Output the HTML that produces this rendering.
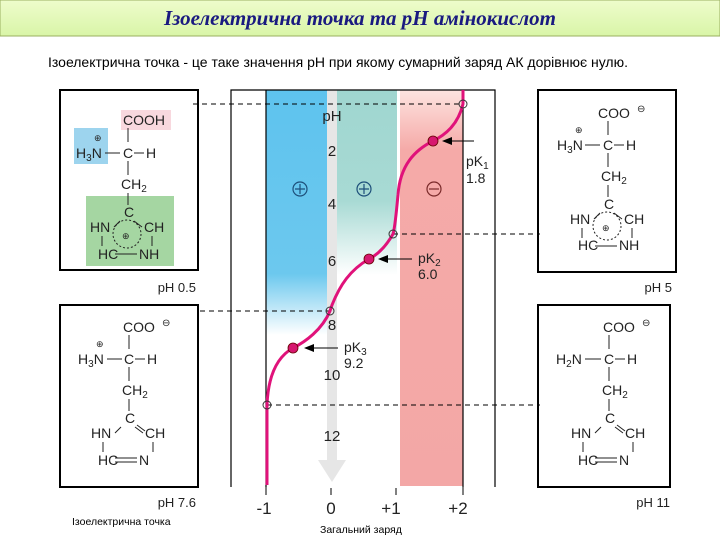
<!DOCTYPE html>
<html><head><meta charset="utf-8"><style>
body{margin:0;width:720px;height:540px;background:#fff;overflow:hidden}
svg text{font-family:"Liberation Sans",sans-serif}
</style></head><body>
<svg width="720" height="540" viewBox="0 0 720 540" xmlns="http://www.w3.org/2000/svg">
<defs>
<linearGradient id="tb" x1="0" y1="0" x2="0" y2="1"><stop offset="0" stop-color="#eefccc"/><stop offset="1" stop-color="#d9f5a8"/></linearGradient>
<linearGradient id="bl" x1="0" y1="0" x2="0" y2="1"><stop offset="0" stop-color="#5ec3ee"/><stop offset="0.75" stop-color="#6cc8ee"/><stop offset="1" stop-color="#fff"/></linearGradient>
<linearGradient id="tl" x1="0" y1="0" x2="0" y2="1"><stop offset="0" stop-color="#9fd6d0"/><stop offset="0.6" stop-color="#a8dad4"/><stop offset="1" stop-color="#fff"/></linearGradient>
<linearGradient id="pk" x1="0" y1="0" x2="0" y2="1"><stop offset="0" stop-color="#fde4e0"/><stop offset="0.15" stop-color="#f5aaa8"/><stop offset="1" stop-color="#f3a7a6"/></linearGradient>
</defs>
<rect x="0" y="0" width="720" height="36" fill="url(#tb)" stroke="#9ab060"/>
<text x="360" y="25" text-anchor="middle" font-style="italic" font-weight="bold" font-size="21" fill="#1a1a80" style="font-family:'Liberation Serif',serif">Ізоелектрична точка та рН амінокислот</text>
<text x="48" y="67" font-size="14" fill="#000">Ізоелектрична точка - це таке значення рН при якому сумарний заряд АК дорівнює нулю.</text>

<rect x="266" y="90" width="61" height="245" fill="url(#bl)"/>
<rect x="327" y="90" width="10" height="370" fill="#e6e6e6"/>
<polygon points="318,460 346,460 332,482" fill="#e6e6e6"/>
<rect x="337" y="90" width="60" height="185" fill="url(#tl)"/>
<rect x="400" y="90" width="63" height="396" fill="url(#pk)"/>
<g stroke="#000" stroke-width="1.2" fill="none">
<path d="M231,487 V90 H495 V487"/>
<line x1="266" y1="90" x2="266" y2="487"/>
<line x1="463" y1="90" x2="463" y2="487"/>
</g>
<g stroke="#000" stroke-dasharray="5,4" stroke-width="1">
<line x1="193" y1="104" x2="463" y2="104"/>
<line x1="393" y1="234" x2="540" y2="234"/>
<line x1="200" y1="311" x2="330" y2="311"/>
<line x1="267" y1="405" x2="540" y2="405"/>
</g>
<path d="M463,90 L463,104 C458,125 445,135 433,141 C415,150 400,165 398,195 C396,215 395,228 393,234 C385,248 377,255 369,259 C350,270 340,285 332,305 L330,311 C322,330 305,342 293,348 C275,358 268,380 267,405 L267,485" fill="none" stroke="#e0127a" stroke-width="3"/>
<g fill="#d6176f" stroke="#600" stroke-width="0.8"><circle cx="433" cy="141" r="5"/><circle cx="369" cy="259" r="5"/><circle cx="293" cy="348" r="5"/></g>
<g fill="none" stroke="#333" stroke-width="1"><circle cx="463" cy="104" r="4"/><circle cx="393" cy="234" r="4"/><circle cx="330" cy="311" r="4"/><circle cx="267" cy="405" r="4"/></g>
<g stroke="#000" stroke-width="1"><line x1="474" y1="141" x2="450" y2="141"/><line x1="412" y1="259" x2="386" y2="259"/><line x1="338" y1="348" x2="312" y2="348"/></g>
<g fill="#000"><polygon points="442,141 452,137 452,145"/><polygon points="378,259 388,255 388,263"/><polygon points="304,348 314,344 314,352"/></g>
<g font-size="14" fill="#222">
<text x="466" y="166">pK<tspan font-size="10" dy="3">1</tspan></text><text x="466" y="183">1.8</text>
<text x="418" y="263">pK<tspan font-size="10" dy="3">2</tspan></text><text x="418" y="279">6.0</text>
<text x="344" y="352">pK<tspan font-size="10" dy="3">3</tspan></text><text x="344" y="368">9.2</text>
</g>
<g font-size="15" fill="#222" text-anchor="middle">
<text x="332" y="121">pH</text><text x="332" y="156">2</text><text x="332" y="209">4</text><text x="332" y="266">6</text><text x="332" y="330">8</text><text x="332" y="380">10</text><text x="332" y="441">12</text>
</g>
<g fill="none" stroke="#1d4f7a" stroke-width="1.2"><circle cx="300" cy="189" r="7"/><circle cx="364" cy="189" r="7"/><circle cx="434" cy="189" r="7" stroke="#7a2a2a"/></g>
<g stroke="#1d4f7a" stroke-width="1.2"><path d="M295,189h10M300,184v10M359,189h10M364,184v10"/><path d="M429,189h10" stroke="#7a2a2a"/></g>
<g stroke="#000"><line x1="266" y1="487" x2="266" y2="495"/><line x1="331" y1="488" x2="331" y2="495"/><line x1="396" y1="488" x2="396" y2="495"/><line x1="463" y1="487" x2="463" y2="495"/></g>
<g font-size="17" fill="#222" text-anchor="middle"><text x="264" y="514">-1</text><text x="331" y="514">0</text><text x="391" y="514">+1</text><text x="458" y="514">+2</text></g>
<text x="320" y="533" font-size="10.5" fill="#000">Загальний заряд</text>
<text x="72" y="525" font-size="10.5" fill="#000">Ізоелектрична точка</text>

<g fill="none" stroke="#000" stroke-width="2">
<rect x="60" y="90" width="138" height="180"/><rect x="538" y="90" width="138" height="182"/>
<rect x="60" y="305" width="138" height="182"/><rect x="538" y="305" width="132" height="182"/>
</g>
<g font-size="13" fill="#222" text-anchor="end"><text x="196" y="292">pH 0.5</text><text x="672" y="292">pH 5</text><text x="196" y="507">pH 7.6</text><text x="670" y="507">pH 11</text></g>

<rect x="121" y="110" width="50" height="20" fill="#f8d8de"/>
<rect x="74" y="128" width="34" height="36" fill="#9dd4ee"/>
<rect x="86" y="196" width="88" height="70" fill="#a5d6a2"/>
<g font-size="14" fill="#222">
 <text x="123" y="125">COOH</text>
 <text x="76" y="158">H<tspan font-size="10" dy="3">3</tspan><tspan dy="-3">N</tspan></text><text x="94" y="141" font-size="9">⊕</text>
 <text x="123" y="158">C</text><text x="146" y="158">H</text>
 <text x="121" y="189">CH<tspan font-size="10" dy="3">2</tspan></text>
 <text x="124" y="217">C</text><text x="90" y="232">HN</text><text x="144" y="232">CH</text><text x="98" y="259">HC</text><text x="139" y="259">NH</text>
 <text x="122" y="239" font-size="9">⊕</text>
 <text x="598" y="118">COO</text><text x="637" y="112" font-size="10">⊖</text>
 <text x="557" y="150">H<tspan font-size="10" dy="3">3</tspan><tspan dy="-3">N</tspan></text><text x="575" y="133" font-size="9">⊕</text>
 <text x="603" y="150">C</text><text x="626" y="150">H</text>
 <text x="601" y="181">CH<tspan font-size="10" dy="3">2</tspan></text>
 <text x="604" y="209">C</text><text x="570" y="224">HN</text><text x="624" y="224">CH</text><text x="578" y="250">HC</text><text x="619" y="250">NH</text>
 <text x="602" y="231" font-size="9">⊕</text>
 <text x="123" y="332">COO</text><text x="162" y="326" font-size="10">⊖</text>
 <text x="78" y="364">H<tspan font-size="10" dy="3">3</tspan><tspan dy="-3">N</tspan></text><text x="96" y="347" font-size="9">⊕</text>
 <text x="124" y="364">C</text><text x="147" y="364">H</text>
 <text x="122" y="395">CH<tspan font-size="10" dy="3">2</tspan></text>
 <text x="125" y="423">C</text><text x="91" y="438">HN</text><text x="145" y="438">CH</text><text x="98" y="465">HC</text><text x="139" y="465">N</text>
 <text x="603" y="332">COO</text><text x="642" y="326" font-size="10">⊖</text>
 <text x="556" y="364">H<tspan font-size="10" dy="3">2</tspan><tspan dy="-3">N</tspan></text>
 <text x="604" y="364">C</text><text x="627" y="364">H</text>
 <text x="602" y="395">CH<tspan font-size="10" dy="3">2</tspan></text>
 <text x="605" y="423">C</text><text x="571" y="438">HN</text><text x="625" y="438">CH</text><text x="578" y="465">HC</text><text x="619" y="465">N</text>
</g>
<g stroke="#222" stroke-width="1" fill="none">
 <path d="M128,128v14M128,161v14M128,193v12M105,153h15M134,153h10M120,221l-6,6M134,221l8,6M102,236v10M152,236v10M115,254h22"/>
 <circle cx="127" cy="234" r="14" stroke-dasharray="2,2"/>
 <path d="M608,121v14M608,153v14M608,185v12M585,145h15M614,145h10M600,213l-6,6M614,213l8,6M582,228v10M632,228v10M595,246h22"/>
 <circle cx="607" cy="226" r="14" stroke-dasharray="2,2"/>
 <path d="M129,335v14M129,367v14M129,399v12M107,359h15M135,359h10M121,427l-6,6M135,427l8,6M137,425l8,6M103,442v10M153,442v10M115,458h22M115,462h22"/>
 <path d="M609,335v14M609,367v14M609,399v12M585,359h16M615,359h10M601,427l-6,6M615,427l8,6M617,425l8,6M583,442v10M633,442v10M595,458h22M595,462h22"/>
</g>
</svg>
</body></html>
